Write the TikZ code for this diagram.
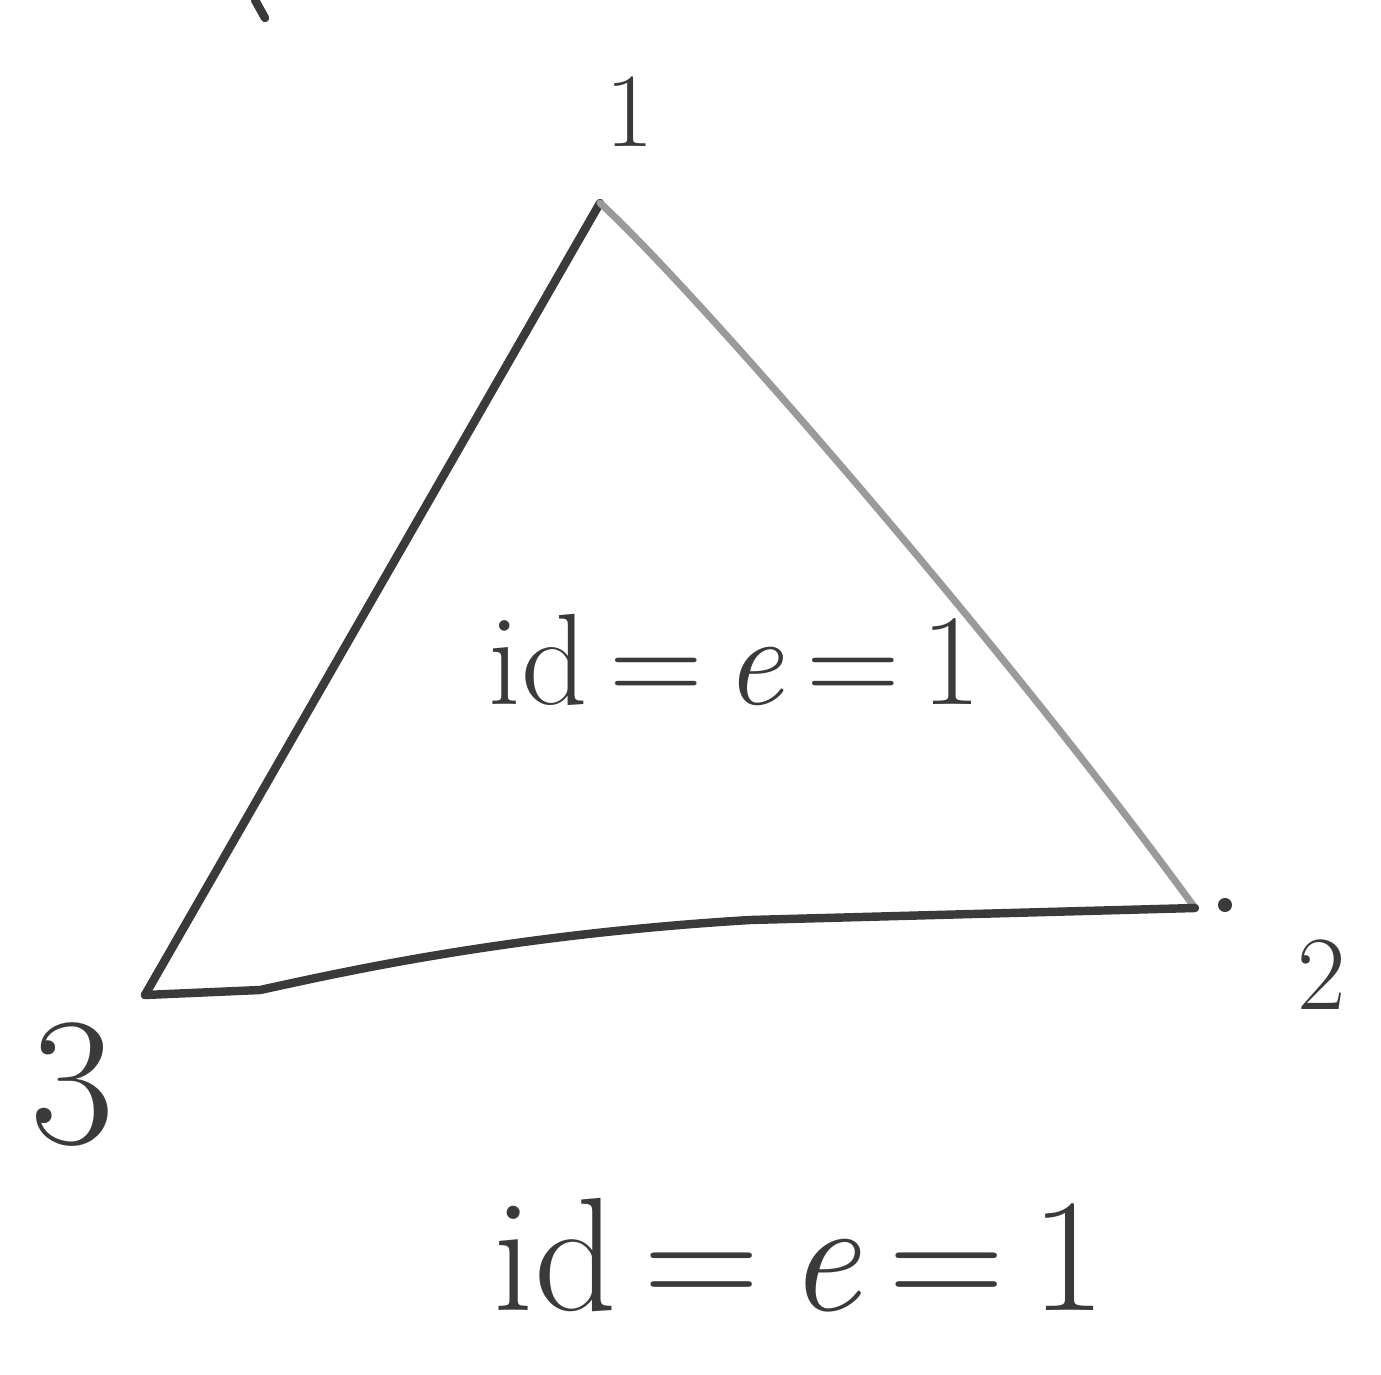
\documentclass[tikz,border=0pt]{standalone}
\usepackage{tikz}
\usetikzlibrary{positioning, arrows.meta}
\definecolor{inkdark}{HTML}{3A3A3A}
\definecolor{inklight}{HTML}{9A9A9A}

\begin{document}
\begin{tikzpicture}[
  x=0.01cm, y=-0.01cm, >=Stealth,
  edge/.style={line width=2.4pt, inkdark, line cap=round, line join=round},
  faint/.style={line width=2pt, inklight, line cap=round},
  vlabel/.style={inkdark, inner sep=0pt},
  formula/.style={inkdark, inner sep=0pt}
]
\useasboundingbox (0,0) rectangle (1381,1375);
\coordinate (v1) at (600,203);
\coordinate (v2) at (1195,908);
\coordinate (v3) at (145,995);
\node[vlabel, font=\fontsize{30}{36}\selectfont] (l1) at (630,112) {1};
\node[vlabel, font=\fontsize{30}{36}\selectfont] (l2) at (1322,975) {2};
\node[vlabel, font=\fontsize{52}{60}\selectfont] (l3) at (72,1085) {3};
\node[fill=inkdark, circle, inner sep=0pt, minimum size=4pt] (dot) at (1225,905) {};
\draw[edge] (v3) -- (v1);
\draw[faint] (v1) .. controls (690,285) and (1000,640) .. (v2);
\draw[edge] (v3) -- (260,990) .. controls (330,975) and (500,935) .. (750,920) -- (v2);
\draw[edge] (255,0) -- (265,18);
\node[formula, font=\fontsize{37}{44}\selectfont] (inner) at (735,660) {id\,=\,\textit{e}\,=\,1};
\node[formula, font=\fontsize{46}{54}\selectfont] (below) at (800,1255) {id\,=\,\textit{e}\,=\,1};
\end{tikzpicture}
\end{document}
